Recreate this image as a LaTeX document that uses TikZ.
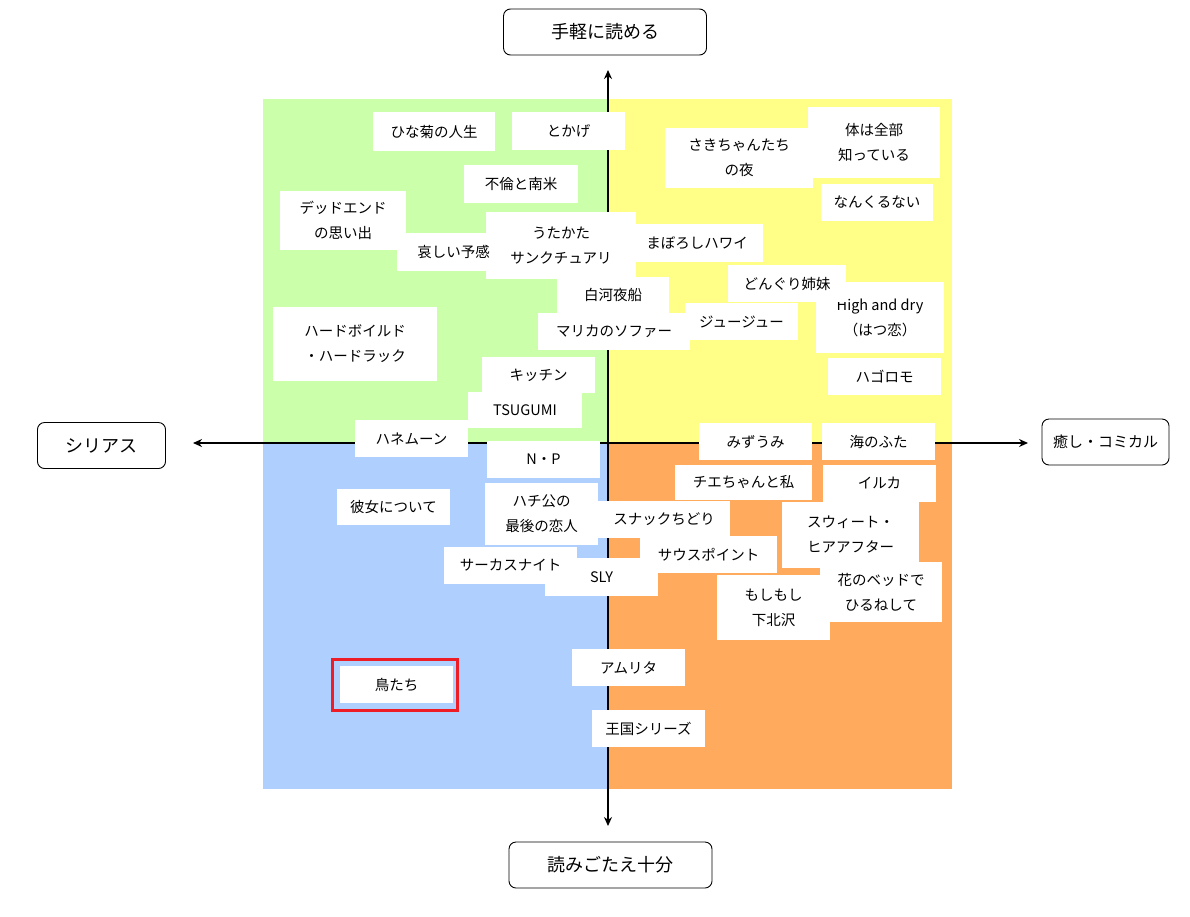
\documentclass[tikz,border=0pt]{standalone}
\usepackage{fontspec}
\setmainfont{Noto Sans CJK JP}
\usetikzlibrary{arrows.meta}
\definecolor{qgreen}{HTML}{CCFFAA}
\definecolor{qyellow}{HTML}{FFFF88}
\definecolor{qblue}{HTML}{AFD0FF}
\definecolor{qorange}{HTML}{FFAA5C}
\definecolor{qred}{HTML}{EE1C24}
\tikzset{
  tbox/.style={fill=white, inner sep=0pt, align=center, text=black,
    font=\fontsize{14.5}{25}\selectfont},
  axislabel/.style={draw=black, line width=0.9pt, rounded corners=7pt, fill=white,
    inner sep=0pt, font=\fontsize{18}{22}\selectfont, minimum width=203pt, minimum height=46pt},
  axisline/.style={draw=black, line width=2pt, {Stealth[length=9pt,width=8pt]}-{Stealth[length=9pt,width=8pt]}},
  redframe/.style={draw=qred, line width=3pt, inner sep=0pt}
}
\newcommand\bookbox[6]{\node[tbox,minimum width={#4pt-#2pt},minimum height={#5pt-#3pt}] (#1) at ({(#2+#4)/2},{(#3+#5)/2}) {#6};}
\begin{document}
\begin{tikzpicture}[x=1pt,y=-1pt]
\useasboundingbox (0,0) rectangle (1190,916);
\fill[white] (0,0) rectangle (1190,916);
% quadrants
\fill[qgreen] (263,99) rectangle (608,443);
\fill[qyellow] (608,99) rectangle (952,443);
\fill[qblue] (263,443) rectangle (608,789);
\fill[qorange] (608,443) rectangle (952,789);
% axes
\coordinate (up) at (608,70);
\coordinate (down) at (608,826);
\coordinate (left) at (193,443);
\coordinate (right) at (1028,443);
\draw[axisline] (left) -- (right);
\draw[axisline] (down) -- (up);
% axis labels
\node[axislabel] (easy) at (605,32) {手軽に読める};
\node[axislabel] (heavy) at (610.5,865) {読みごたえ十分};
\node[axislabel, minimum width=128pt] (serious) at (101.5,445.5) {シリアス};
\node[axislabel, minimum width=127pt, font=\fontsize{15}{18}\selectfont] (comical) at (1105.5,442) {癒し・コミカル};
% books: upper left
\bookbox{hina}{373}{112}{495}{151}{ひな菊の人生}
\bookbox{tokage}{512}{112}{625}{150}{とかげ}
\bookbox{furin}{464}{165}{578}{203}{不倫と南米}
\bookbox{deadend}{280}{191}{406}{250}{デッドエンド\\の思い出}
\bookbox{utakata}{486}{212}{636}{279}{うたかた\\サンクチュアリ}
\bookbox{kanashii}{397}{233}{510}{271}{哀しい予感}
\bookbox{shirakawa}{557}{277}{669}{313}{白河夜船}
\bookbox{marika}{538}{313}{690}{350}{マリカのソファー}
\bookbox{hard}{273}{307}{437}{381}{ハードボイルド\\・ハードラック}
\bookbox{kitchen}{482}{357}{595}{393}{キッチン}
\bookbox{tsugumi}{468}{392}{582}{428}{TSUGUMI}
\bookbox{honeymoon}{355}{420}{468}{457}{ハネムーン}
% upper right
\bookbox{saki}{665}{128}{813}{188}{さきちゃんたち\\の夜}
\bookbox{karada}{808}{107}{940}{178}{体は全部\\知っている}
\bookbox{nankuru}{821}{184}{933}{221}{なんくるない}
\bookbox{maboroshi}{631}{224}{763}{262}{まぼろしハワイ}
\bookbox{highdry}{816}{282}{944}{353}{High and dry\\（はつ恋）}
\bookbox{donguri}{728}{265}{846}{302}{どんぐり姉妹}
\bookbox{juju}{685}{303}{798}{340}{ジュージュー}
\bookbox{hagoromo}{828}{358}{941}{395}{ハゴロモ}
\bookbox{mizuumi}{699}{423}{812}{460}{みずうみ}
\bookbox{uminofuta}{822}{423}{935}{460}{海のふた}
% lower left
\bookbox{np}{487}{441}{600}{478}{N・P}
\bookbox{kanojo}{337}{489}{450}{525}{彼女について}
\bookbox{hachiko}{485}{483}{598}{545}{ハチ公の\\最後の恋人}
\bookbox{sly}{545}{558}{658}{596}{SLY}
\bookbox{circus}{444}{547}{577}{584}{サーカスナイト}
\bookbox{amrita}{572}{649}{685}{686}{アムリタ}
\bookbox{oukoku}{592}{710}{705}{747}{王国シリーズ}
\bookbox{tori}{340}{666}{453}{703}{鳥たち}
\node[redframe, minimum width=125pt, minimum height=51pt] (toriframe) at (395,685) {};
% lower right
\bookbox{snack}{598}{501}{730}{538}{スナックちどり}
\bookbox{southpoint}{640}{536}{777}{573}{サウスポイント}
\bookbox{chie}{675}{465}{812}{500}{チエちゃんと私}
\bookbox{iruka}{823}{465}{936}{502}{イルカ}
\bookbox{sweet}{782}{502}{919}{568}{スウィート・\\ヒアアフター}
\bookbox{hana}{820}{562}{942}{622}{花のベッドで\\ひるねして}
\bookbox{moshi}{717}{575}{830}{640}{もしもし\\下北沢}
\end{tikzpicture}
\end{document}
